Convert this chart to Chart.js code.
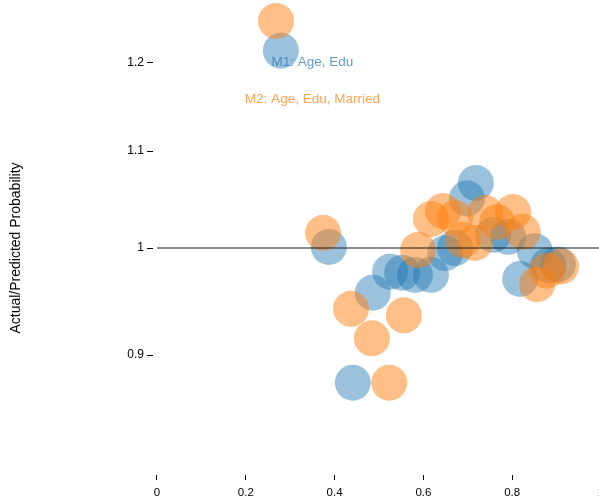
<!DOCTYPE html>
<html>
<head>
<meta charset="utf-8">
<script src="https://cdn.jsdelivr.net/npm/chart.js@4/dist/chart.umd.min.js"></script>
<style>
  html, body { margin: 0; padding: 0; overflow: hidden; background: #fff; }
  #wrap { width: 620px; height: 497px; }
</style>
</head>
<body>
<div id="wrap"><canvas id="calib" width="620" height="497"></canvas></div>
<script>
// mean predicted probability per bin (x) and actual/predicted ratio (y)
var m1X = [0.279, 0.387, 0.441, 0.486, 0.525, 0.552, 0.581, 0.617, 0.649, 0.671, 0.698, 0.718, 0.757, 0.791, 0.818, 0.851, 0.881, 0.903];
var m1Y = [1.214, 1.001, 0.876, 0.957, 0.977, 0.976, 0.974, 0.974, 0.995, 1.000, 1.050, 1.066, 1.013, 1.011, 0.970, 0.997, 0.983, 0.984];

var m2X = [0.268, 0.374, 0.437, 0.484, 0.523, 0.556, 0.588, 0.617, 0.644, 0.671, 0.689, 0.716, 0.739, 0.766, 0.802, 0.824, 0.856, 0.878, 0.910];
var m2Y = [1.250, 1.015, 0.942, 0.915, 0.876, 0.936, 0.998, 1.029, 1.037, 1.030, 1.008, 1.005, 1.035, 1.026, 1.036, 1.016, 0.965, 0.978, 0.982];

var xTicks = [0, 0.2, 0.4, 0.6, 0.8, 1];
var yTicks = [0.9, 1, 1.1, 1.2];

var modelNames = ['M1: Age, Edu', 'M2: Age, Edu, Married'];
var nameSpots = [[0.35, 1.2], [0.35, 1.1575]];

var BLUE = '31,119,180';
var ORANGE = '255,127,14';

function toPoints(xs, ys) {
  return xs.map(function (x, i) { return { x: x, y: ys[i] }; });
}

// model names written in the plot, in their series colours
var modelLabels = {
  id: 'modelLabels',
  afterDatasetsDraw: function (chart) {
    var ctx = chart.ctx;
    var sx = chart.scales.x, sy = chart.scales.y;
    var colors = [BLUE, ORANGE];
    ctx.save();
    ctx.font = '13.5px "Liberation Sans", Arial, sans-serif';
    ctx.textAlign = 'center';
    ctx.textBaseline = 'middle';
    modelNames.forEach(function (name, i) {
      ctx.fillStyle = 'rgba(' + colors[i] + ',0.72)';
      ctx.fillText(name, sx.getPixelForValue(nameSpots[i][0]), sy.getPixelForValue(nameSpots[i][1]));
    });
    ctx.restore();
  }
};

new Chart(document.getElementById('calib'), {
  type: 'scatter',
  data: {
    datasets: [
      {
        type: 'line',
        label: 'ratio = 1',
        data: [{ x: 0, y: 1 }, { x: 1, y: 1 }],
        borderColor: '#1a1a1a',
        borderWidth: 1,
        pointRadius: 0,
        clip: false
      },
      {
        label: modelNames[1],
        data: toPoints(m2X, m2Y),
        backgroundColor: 'rgba(' + ORANGE + ',0.5)',
        borderWidth: 0,
        pointRadius: 18,
        pointHoverRadius: 18,
        clip: false
      },
      {
        label: modelNames[0],
        data: toPoints(m1X, m1Y),
        backgroundColor: 'rgba(' + BLUE + ',0.45)',
        borderWidth: 0,
        pointRadius: 18,
        pointHoverRadius: 18,
        clip: false
      }
    ]
  },
  options: {
    responsive: false,
    animation: false,
    devicePixelRatio: 1,
    layout: { padding: { top: 21, right: 19, bottom: 0, left: 0 } },
    plugins: {
      legend: { display: false },
      tooltip: { enabled: false }
    },
    scales: {
      x: {
        type: 'linear',
        min: -0.009,
        max: 1,
        afterBuildTicks: function (s) { s.ticks = xTicks.map(function (v) { return { value: v }; }); },
        afterFit: function (s) { s.height = 22; },
        grid: { drawOnChartArea: false, drawTicks: true, tickLength: 5, tickColor: '#000' },
        border: { display: false },
        ticks: {
          padding: 6,
          color: '#000',
          font: { family: '"Liberation Sans", Arial, sans-serif', size: 11.5 },
          maxRotation: 0,
          callback: function (v) { return String(v); }
        }
      },
      y: {
        type: 'logarithmic',
        min: 0.8,
        max: 1.25,
        afterBuildTicks: function (s) { s.ticks = yTicks.map(function (v) { return { value: v }; }); },
        afterFit: function (s) { s.width = 153; },
        grid: { drawOnChartArea: false, drawTicks: true, tickLength: 6, tickColor: '#000' },
        border: { display: false },
        title: {
          display: true,
          text: 'Actual/Predicted Probability',
          color: '#000',
          font: { family: '"Liberation Sans", Arial, sans-serif', size: 14 },
          padding: { top: 8, bottom: 0 }
        },
        ticks: {
          padding: 3,
          color: '#000',
          font: { family: '"Liberation Sans", Arial, sans-serif', size: 12 },
          callback: function (v) { return String(v); }
        }
      }
    }
  },
  plugins: [modelLabels]
});
</script>
</body>
</html>
